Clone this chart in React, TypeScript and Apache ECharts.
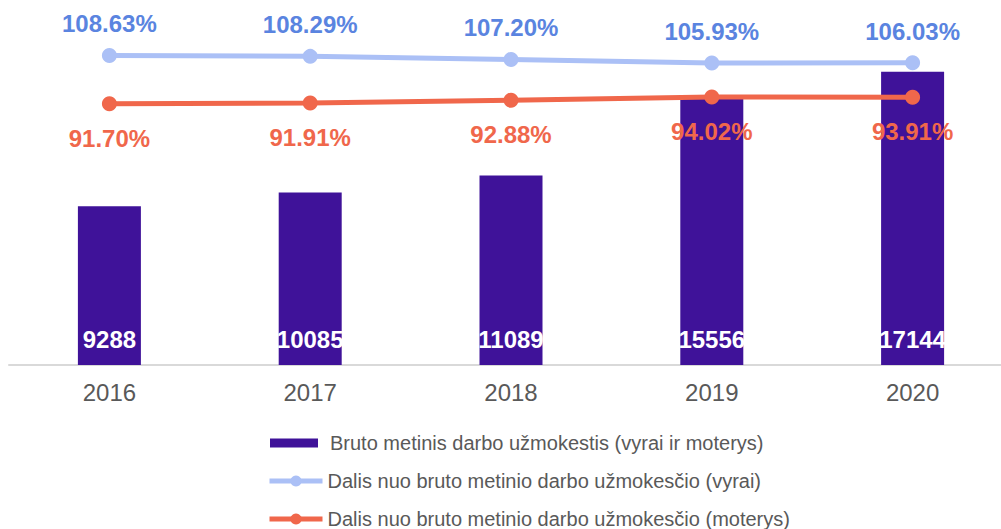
import React, { useEffect, useRef } from "react";
import * as echarts from "echarts";

const categories = ["2016", "2017", "2018", "2019", "2020"];
const salaryTotal = [9288, 10085, 11089, 15556, 17144];
const shareMen = [108.63, 108.29, 107.2, 105.93, 106.03];
const shareWomen = [91.7, 91.91, 92.88, 94.02, 93.91];
const seriesNames = [
  "Bruto metinis darbo užmokestis (vyrai ir moterys)",
  "Dalis nuo bruto metinio darbo užmokesčio (vyrai)",
  "Dalis nuo bruto metinio darbo užmokesčio (moterys)",
];

const FONT = "'Liberation Sans', Arial, sans-serif";

export default function App() {
  const ref = useRef<HTMLDivElement>(null);
  useEffect(() => {
    if (!ref.current) return;
    const chart = echarts.init(ref.current, null, { renderer: "svg" });
    const legendText = { color: "#595959", fontSize: 20, fontFamily: FONT };
    chart.setOption({
      animation: false,
      textStyle: { fontFamily: FONT },
      grid: { left: 9, top: 23, right: 0, height: 342 },
      legend: [
        {
          data: [seriesNames[0]],
          left: 270,
          top: 433,
          padding: 0,
          itemWidth: 48,
          itemHeight: 9,
          icon: "rect",
          textStyle: { ...legendText, padding: [0, 0, 0, 7] },
        },
        {
          data: [seriesNames[1]],
          left: 267,
          top: 471,
          padding: 0,
          itemWidth: 53,
          itemHeight: 14,
          lineStyle: { width: 5 },
          textStyle: legendText,
        },
        {
          data: [seriesNames[2]],
          left: 267,
          top: 509,
          padding: 0,
          itemWidth: 53,
          itemHeight: 14,
          lineStyle: { width: 5 },
          textStyle: legendText,
        },
      ],
      xAxis: {
        type: "category",
        data: categories,
        axisLine: { show: true, lineStyle: { color: "#d9d9d9", width: 2 } },
        axisTick: { show: false },
        axisLabel: { color: "#595959", fontSize: 24, margin: 15, fontFamily: FONT },
      },
      yAxis: [
        { type: "value", min: 0, max: 20000, show: false, splitLine: { show: false } },
        { type: "value", min: 0, max: 120, show: false, splitLine: { show: false } },
      ],
      series: [
        {
          name: seriesNames[0],
          type: "bar",
          data: salaryTotal,
          barWidth: 63,
          itemStyle: { color: "#3F1299" },
          label: {
            show: true,
            position: "insideBottom",
            distance: 14,
            color: "#ffffff",
            fontWeight: "bold",
            fontSize: 24,
            fontFamily: FONT,
          },
        },
        {
          name: seriesNames[1],
          type: "line",
          yAxisIndex: 1,
          data: shareMen,
          symbol: "circle",
          symbolSize: 15,
          itemStyle: { color: "#ABC0F6" },
          lineStyle: { color: "#ABC0F6", width: 5 },
          label: {
            show: true,
            position: "top",
            distance: 12,
            color: "#5A84E0",
            fontWeight: "bold",
            fontSize: 24,
            fontFamily: FONT,
            formatter: (p: any) => p.value.toFixed(2) + "%",
          },
          z: 3,
        },
        {
          name: seriesNames[2],
          type: "line",
          yAxisIndex: 1,
          data: shareWomen,
          symbol: "circle",
          symbolSize: 15,
          itemStyle: { color: "#F0674B" },
          lineStyle: { color: "#F0674B", width: 5 },
          label: {
            show: true,
            position: "bottom",
            distance: 15,
            color: "#F0674B",
            fontWeight: "bold",
            fontSize: 24,
            fontFamily: FONT,
            formatter: (p: any) => p.value.toFixed(2) + "%",
          },
          z: 3,
        },
      ],
    });
    return () => chart.dispose();
  }, []);
  return (
    <div
      style={{
        position: "absolute",
        left: 0,
        top: 0,
        width: 1001,
        height: 529,
        overflow: "hidden",
      }}
    >
      <div ref={ref} style={{ width: 1013, height: 529 }} />
    </div>
  );
}
